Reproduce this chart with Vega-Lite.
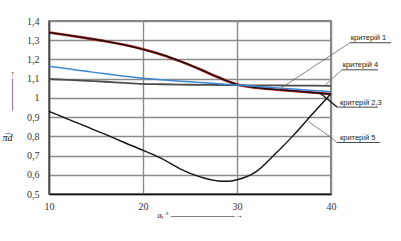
{
  "$schema": "https://vega.github.io/schema/vega-lite/v6.json",
  "autosize": "none",
  "width": 282,
  "height": 173,
  "padding": {"left": 49, "top": 21, "right": 70, "bottom": 47},
  "background": "white",
  "config": {
    "view": {"stroke": "#555", "strokeWidth": 1.5},
    "axis": {"labelFont": "Liberation Serif", "labelFontSize": 10, "labelColor": "#333", "ticks": false, "gridColor": "#8a8a8a", "gridWidth": 1.4, "titleFont": "Liberation Serif", "titleFontWeight": "normal", "titleColor": "#111", "labelOverlap": false, "labelFlush": false},
    "text": {"font": "Liberation Sans", "fontSize": 7.5, "color": "#222"}
  },
  "title": {"text": "————→", "orient": "left", "anchor": "middle", "dx": 17, "dy": 14, "offset": 0, "font": "Liberation Serif", "fontSize": 8, "fontWeight": "bold", "color": "#111"},
  "datasets": {
    "curves": [
      {"series": "k23", "a": 10, "v": 1.34}, {"series": "k23", "a": 12, "v": 1.326}, {"series": "k23", "a": 14, "v": 1.311}, {"series": "k23", "a": 16, "v": 1.295}, {"series": "k23", "a": 18, "v": 1.276}, {"series": "k23", "a": 20, "v": 1.253}, {"series": "k23", "a": 22, "v": 1.225}, {"series": "k23", "a": 24, "v": 1.19}, {"series": "k23", "a": 26, "v": 1.15}, {"series": "k23", "a": 28, "v": 1.107}, {"series": "k23", "a": 30, "v": 1.07}, {"series": "k23", "a": 32, "v": 1.053}, {"series": "k23", "a": 34, "v": 1.044}, {"series": "k23", "a": 36, "v": 1.036}, {"series": "k23", "a": 38, "v": 1.028}, {"series": "k23", "a": 40, "v": 1.02},
      {"series": "k1", "a": 10, "v": 1.165}, {"series": "k1", "a": 12, "v": 1.151}, {"series": "k1", "a": 14, "v": 1.138}, {"series": "k1", "a": 16, "v": 1.125}, {"series": "k1", "a": 18, "v": 1.113}, {"series": "k1", "a": 20, "v": 1.102}, {"series": "k1", "a": 22, "v": 1.094}, {"series": "k1", "a": 24, "v": 1.087}, {"series": "k1", "a": 26, "v": 1.08}, {"series": "k1", "a": 28, "v": 1.073}, {"series": "k1", "a": 30, "v": 1.067}, {"series": "k1", "a": 32, "v": 1.06}, {"series": "k1", "a": 34, "v": 1.053}, {"series": "k1", "a": 36, "v": 1.046}, {"series": "k1", "a": 38, "v": 1.039}, {"series": "k1", "a": 40, "v": 1.032},
      {"series": "k4", "a": 10, "v": 1.098}, {"series": "k4", "a": 12, "v": 1.094}, {"series": "k4", "a": 14, "v": 1.089}, {"series": "k4", "a": 16, "v": 1.084}, {"series": "k4", "a": 18, "v": 1.078}, {"series": "k4", "a": 20, "v": 1.073}, {"series": "k4", "a": 22, "v": 1.071}, {"series": "k4", "a": 24, "v": 1.069}, {"series": "k4", "a": 26, "v": 1.068}, {"series": "k4", "a": 28, "v": 1.067}, {"series": "k4", "a": 30, "v": 1.066}, {"series": "k4", "a": 32, "v": 1.065}, {"series": "k4", "a": 34, "v": 1.065}, {"series": "k4", "a": 36, "v": 1.064}, {"series": "k4", "a": 38, "v": 1.064}, {"series": "k4", "a": 40, "v": 1.063},
      {"series": "k5", "a": 10, "v": 0.93}, {"series": "k5", "a": 12, "v": 0.89}, {"series": "k5", "a": 14, "v": 0.85}, {"series": "k5", "a": 16, "v": 0.81}, {"series": "k5", "a": 18, "v": 0.768}, {"series": "k5", "a": 20, "v": 0.727}, {"series": "k5", "a": 22, "v": 0.684}, {"series": "k5", "a": 24, "v": 0.63}, {"series": "k5", "a": 26, "v": 0.59}, {"series": "k5", "a": 28, "v": 0.568}, {"series": "k5", "a": 29, "v": 0.566}, {"series": "k5", "a": 30, "v": 0.574}, {"series": "k5", "a": 32, "v": 0.615}, {"series": "k5", "a": 34, "v": 0.705}, {"series": "k5", "a": 36, "v": 0.805}, {"series": "k5", "a": 38, "v": 0.915}, {"series": "k5", "a": 40, "v": 1.022}
    ],
    "leaders": [
      {"label": "k1", "a": 42.02, "v": 1.287, "a2": 34.4, "v2": 1.042},
      {"label": "k4", "a": 41.17, "v": 1.146, "a2": 39.2, "v2": 1.058},
      {"label": "k5a", "a": 37.59, "v": 0.877, "a2": 40.1, "v2": 0.791},
      {"label": "k5b", "a": 40.1, "v": 0.791, "a2": 40.63, "v2": 0.768}
    ],
    "leadersDark": [
      {"label": "k23", "a": 40.64, "v": 0.952, "a2": 38.83, "v2": 1.025}
    ],
    "underlines": [
      {"label": "критерій 1", "a": 42.02, "a2": 46.38, "v": 1.287},
      {"label": "критерій 4", "a": 41.17, "a2": 45.0, "v": 1.146},
      {"label": "критерій 2,3", "a": 40.64, "a2": 45.0, "v": 0.952},
      {"label": "критерій 5", "a": 40.63, "a2": 45.23, "v": 0.768}
    ],
    "labels": [
      {"label": "критерій 1", "a": 42.1, "v": 1.287},
      {"label": "критерій 4", "a": 41.25, "v": 1.146},
      {"label": "критерій 2,3", "a": 40.95, "v": 0.952},
      {"label": "критерій 5", "a": 40.95, "v": 0.768}
    ]
  },
  "encoding": {
    "x": {"field": "a", "type": "quantitative", "scale": {"domain": [10, 40], "nice": false, "zero": false},
      "axis": {"values": [10, 20, 30, 40], "labelPadding": 7, "domainColor": "#111", "domainWidth": 1.5, "title": "αᵣ °  ————————→", "titleFontSize": 8, "titleX": 108, "titleY": 21, "titleAlign": "left", "titleBaseline": "middle"}},
    "y": {"field": "v", "type": "quantitative", "scale": {"domain": [0.5, 1.4], "nice": false, "zero": false},
      "axis": {"values": [0.5, 0.6, 0.7, 0.8, 0.9, 1.0, 1.1, 1.2, 1.3, 1.4], "tickCount": 10, "labelBound": false, "labelExpr": "replace(format(datum.value, '.2~f'), '.', ',')", "labelPadding": 10, "domainColor": "#444", "domainWidth": 1.5, "title": "π̅d", "titleFontSize": 10, "titleFontStyle": "italic", "titleAngle": 0, "titleX": -47, "titleY": 116, "titleAlign": "left", "titleBaseline": "middle"}}
  },
  "layer": [
    {
      "data": {"name": "curves"},
      "transform": [{"filter": "datum.series == 'k23'"}],
      "mark": {"type": "line", "interpolate": "monotone", "color": "#b22222", "strokeWidth": 2.6}
    },
    {
      "data": {"name": "curves"},
      "transform": [{"filter": "datum.series == 'k23'"}],
      "mark": {"type": "line", "interpolate": "monotone", "color": "#111", "strokeWidth": 1.3}
    },
    {
      "data": {"name": "curves"},
      "transform": [{"filter": "datum.series == 'k4'"}],
      "mark": {"type": "line", "interpolate": "monotone", "color": "#4d4d4d", "strokeWidth": 1.8}
    },
    {
      "data": {"name": "curves"},
      "transform": [{"filter": "datum.series == 'k1'"}],
      "mark": {"type": "line", "interpolate": "monotone", "color": "#3d85d1", "strokeWidth": 1.5}
    },
    {
      "data": {"name": "curves"},
      "transform": [{"filter": "datum.series == 'k5'"}],
      "mark": {"type": "line", "interpolate": "monotone", "color": "#111", "strokeWidth": 1.4}
    },
    {
      "data": {"name": "leaders"},
      "mark": {"type": "rule", "color": "#666", "strokeWidth": 0.8},
      "encoding": {"x2": {"field": "a2"}, "y2": {"field": "v2"}}
    },
    {
      "data": {"name": "leadersDark"},
      "mark": {"type": "rule", "color": "#111", "strokeWidth": 1.3},
      "encoding": {"x2": {"field": "a2"}, "y2": {"field": "v2"}}
    },
    {
      "data": {"name": "underlines"},
      "mark": {"type": "rule", "color": "#333", "strokeWidth": 0.9},
      "encoding": {"x2": {"field": "a2"}}
    },
    {
      "data": {"name": "labels"},
      "mark": {"type": "text", "align": "left", "baseline": "alphabetic", "dy": -2.5},
      "encoding": {"text": {"field": "label"}}
    }
  ]
}
